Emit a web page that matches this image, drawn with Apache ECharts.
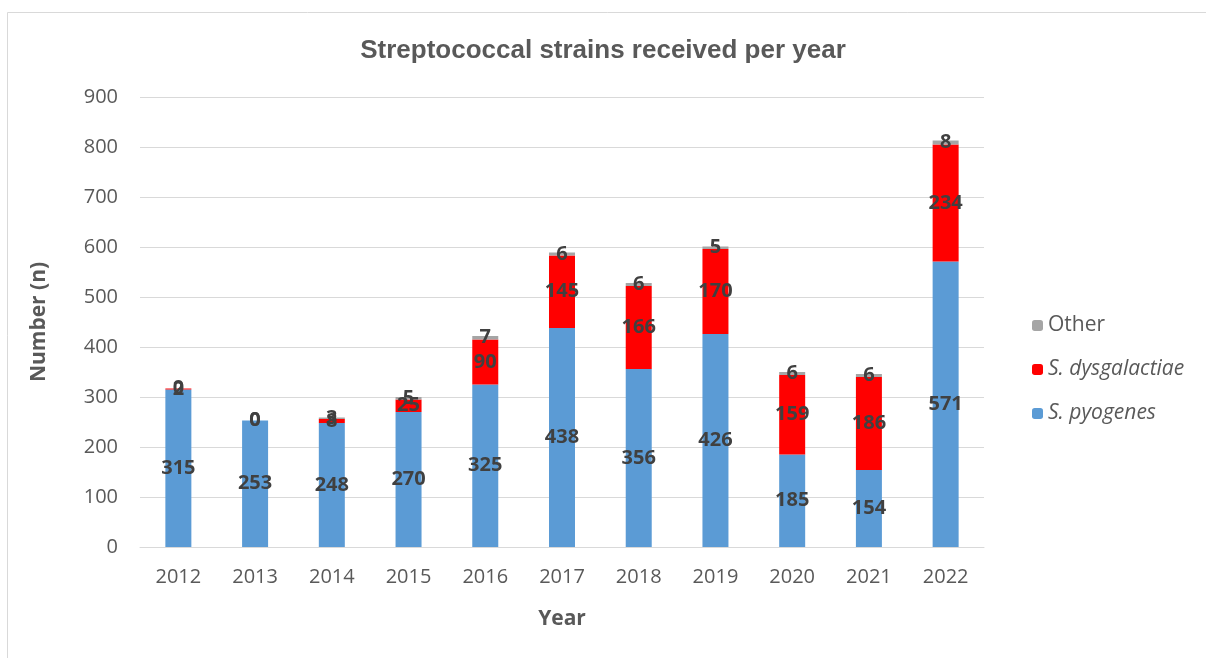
<!DOCTYPE html>
<html>
<head>
<meta charset="utf-8">
<script src="https://cdn.jsdelivr.net/npm/echarts@6/dist/echarts.min.js"></script>
<style>
html,body{margin:0;padding:0;background:#fff;}
#chart{width:1206px;height:658px;}
</style>
</head>
<body>
<div id="chart"></div>
<script>
// Streptococcal strains received per year, stacked by species
const years = ['2012','2013','2014','2015','2016','2017','2018','2019','2020','2021','2022'];
const pyogenes = [315, 253, 248, 270, 325, 438, 356, 426, 185, 154, 571];
const dysgalactiae = [2, 0, 8, 25, 90, 145, 166, 170, 159, 186, 234];
const other = [0, 0, 3, 5, 7, 6, 6, 5, 6, 6, 8];
const yTicks = [0, 100, 200, 300, 400, 500, 600, 700, 800, 900];

const FONT = '"Open Sans", sans-serif';
const labelStyle = {
  show: true,
  position: 'inside',
  color: '#404040',
  fontWeight: 'bold',
  fontSize: 20,
  fontFamily: FONT,
  formatter: p => String(p.value)
};

const chart = echarts.init(document.getElementById('chart'));
chart.setOption({
  animation: false,
  backgroundColor: '#fff',
  graphic: [{
    type: 'rect',
    shape: { x: 7.5, y: 12.5, width: 1220, height: 680 },
    style: { fill: 'none', stroke: '#D9D9D9', lineWidth: 1 },
    silent: true
  }],
  title: {
    text: 'Streptococcal strains received per year',
    left: 'center',
    top: 33,
    textStyle: { color: '#595959', fontSize: 26, fontWeight: 'bold', fontFamily: '"Liberation Sans", Arial, sans-serif' }
  },
  legend: {
    orient: 'vertical',
    left: 1027,
    top: 310,
    itemWidth: 11,
    itemHeight: 11,
    itemGap: 23,
    data: [
      { name: 'Other' },
      { name: 'S. dysgalactiae', textStyle: { fontStyle: 'italic' } },
      { name: 'S. pyogenes', textStyle: { fontStyle: 'italic' } }
    ],
    textStyle: { color: '#595959', fontSize: 21, fontFamily: FONT }
  },
  grid: { left: 140, right: 222, top: 97, bottom: 111 },
  xAxis: {
    type: 'category',
    data: years,
    name: 'Year',
    nameLocation: 'middle',
    nameGap: 62,
    nameTextStyle: { color: '#595959', fontSize: 21, fontWeight: 'bold', fontFamily: FONT },
    axisLine: { lineStyle: { color: '#D9D9D9' } },
    axisTick: { show: false },
    axisLabel: { color: '#595959', fontSize: 20, fontFamily: FONT, margin: 20 }
  },
  yAxis: {
    type: 'value',
    min: yTicks[0],
    max: yTicks[yTicks.length - 1],
    interval: 100,
    name: 'Number (n)',
    nameLocation: 'middle',
    nameGap: 90,
    nameTextStyle: { color: '#595959', fontSize: 21, fontWeight: 'bold', fontFamily: FONT },
    axisLine: { show: false },
    axisTick: { show: false },
    axisLabel: { color: '#595959', fontSize: 20, fontFamily: FONT, margin: 22 },
    splitLine: { lineStyle: { color: '#D9D9D9', width: 1 } }
  },
  series: [
    { name: 'S. pyogenes', type: 'bar', stack: 'total', data: pyogenes, barWidth: 26,
      itemStyle: { color: '#5B9BD5' }, label: labelStyle },
    { name: 'S. dysgalactiae', type: 'bar', stack: 'total', data: dysgalactiae, barWidth: 26,
      itemStyle: { color: '#FF0000' }, label: labelStyle },
    { name: 'Other', type: 'bar', stack: 'total', data: other, barWidth: 26,
      itemStyle: { color: '#A5A5A5' }, label: labelStyle }
  ]
});
</script>
</body>
</html>
